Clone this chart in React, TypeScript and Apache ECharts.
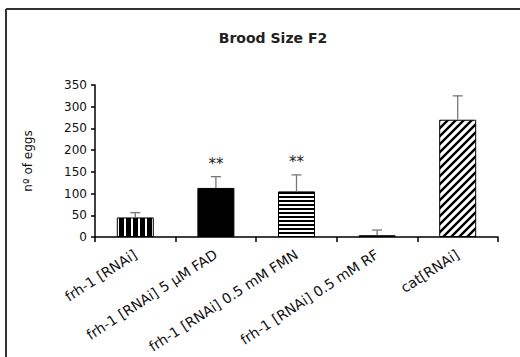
import React, { useEffect, useRef } from "react";
import * as echarts from "echarts";

const categories = [
  "frh-1 [RNAi]",
  "frh-1 [RNAi] 5 µM FAD",
  "frh-1 [RNAi] 0.5 mM FMN",
  "frh-1 [RNAi] 0.5 mM RF",
  "cat[RNAi]",
];
const values = [45, 113, 105, 4, 270];
const errors = [11, 26, 38, 12, 55];
const significance = ["", "**", "**", "", ""];
const yTicks = { min: 0, max: 350, interval: 50 };

function makeCanvas(w: number, h: number, draw: (ctx: CanvasRenderingContext2D) => void) {
  const c = document.createElement("canvas");
  c.width = w;
  c.height = h;
  const ctx = c.getContext("2d")!;
  ctx.fillStyle = "#fff";
  ctx.fillRect(0, 0, w, h);
  draw(ctx);
  return c;
}

function patterns() {
  const vertical = makeCanvas(7, 7, (ctx) => {
    ctx.fillStyle = "#000";
    ctx.fillRect(0, 0, 5, 7);
  });
  const horizontal = makeCanvas(4, 4, (ctx) => {
    ctx.fillStyle = "#000";
    ctx.fillRect(0, 0, 4, 2);
  });
  const diagonal = makeCanvas(8, 8, (ctx) => {
    ctx.strokeStyle = "#000";
    ctx.lineWidth = 2.4;
    ctx.beginPath();
    for (let k = -2; k <= 2; k++) {
      ctx.moveTo(k * 8 - 1, 9);
      ctx.lineTo(k * 8 + 9, -1);
    }
    ctx.stroke();
  });
  const wave = makeCanvas(6, 4, (ctx) => {
    ctx.fillStyle = "#000";
    ctx.fillRect(0, 0, 6, 4);
  });
  return [
    { image: vertical, repeat: "repeat" },
    "#000",
    { image: horizontal, repeat: "repeat" },
    { image: wave, repeat: "repeat" },
    { image: diagonal, repeat: "repeat" },
  ];
}

export default function App() {
  const ref = useRef<HTMLDivElement>(null);
  useEffect(() => {
    if (!ref.current) return;
    const chart = echarts.init(ref.current, null, { renderer: "svg" });
    const fills = patterns();
    chart.setOption({
      animation: false,
      backgroundColor: "#fff",
      title: {
        text: "Brood Size F2",
        left: 268,
        top: 26,
        textAlign: "center",
        textStyle: { fontFamily: "DejaVu Sans", fontSize: 14, fontWeight: "bold", color: "#222" },
      },
      graphic: [
        { type: "line", shape: { x1: 6, y1: 9, x2: 520, y2: 9 }, style: { stroke: "#333", lineWidth: 2 } },
        { type: "line", shape: { x1: 6, y1: 9, x2: 6, y2: 357 }, style: { stroke: "#333", lineWidth: 2 } },
      ],
      grid: { left: 95, right: 22, top: 85, bottom: 120 },
      xAxis: {
        type: "category",
        data: categories,
        axisLine: { lineStyle: { color: "#000", width: 1.5 } },
        axisTick: { show: true, inside: false, length: 5, lineStyle: { color: "#000", width: 1.5 } },
        axisLabel: {
          rotate: 33,
          interval: 0,
          margin: 16,
          fontFamily: "DejaVu Sans",
          fontSize: 14,
          color: "#111",
        },
      },
      yAxis: {
        type: "value",
        min: yTicks.min,
        max: yTicks.max,
        interval: yTicks.interval,
        name: "nº of eggs",
        nameLocation: "middle",
        nameGap: 61,
        nameTextStyle: { fontFamily: "DejaVu Sans", fontSize: 12, color: "#111" },
        splitLine: { show: false },
        axisLine: { show: true, lineStyle: { color: "#000", width: 1.5 } },
        axisTick: { show: true, length: 4, lineStyle: { color: "#000", width: 1.5 } },
        axisLabel: { fontFamily: "DejaVu Sans", fontSize: 12, color: "#111", margin: 8 },
      },
      series: [
        {
          type: "bar",
          barWidth: 37,
          data: values.map((v, i) => ({
            value: v,
            itemStyle: { color: fills[i], borderColor: "#000", borderWidth: 1 },
          })),
        },
        {
          type: "custom",
          data: values.map((v, i) => [i, v, v + errors[i], significance[i]]),
          renderItem: (params: any, api: any) => {
            const x = api.coord([api.value(0), 0])[0];
            const base = api.coord([api.value(0), api.value(1)])[1];
            const top = api.coord([api.value(0), api.value(2)])[1];
            const sig = significance[params.dataIndex];
            const cap = 5;
            const children: any[] = [
              { type: "line", shape: { x1: x, y1: base, x2: x, y2: top }, style: { stroke: "#777", lineWidth: 1.3 } },
              { type: "line", shape: { x1: x - cap, y1: top, x2: x + cap, y2: top }, style: { stroke: "#777", lineWidth: 1.3 } },
            ];
            if (sig) {
              children.push({
                type: "text",
                style: {
                  text: sig,
                  x: x,
                  y: top - 5,
                  align: "center",
                  verticalAlign: "bottom",
                  fontFamily: "DejaVu Sans",
                  fontSize: 15,
                  fill: "#222",
                },
              });
            }
            return { type: "group", children };
          },
          z: 5,
        },
      ],
    });
    return () => chart.dispose();
  }, []);
  return <div ref={ref} style={{ width: 520, height: 357, position: "absolute", left: 0, top: 0 }} />;
}
